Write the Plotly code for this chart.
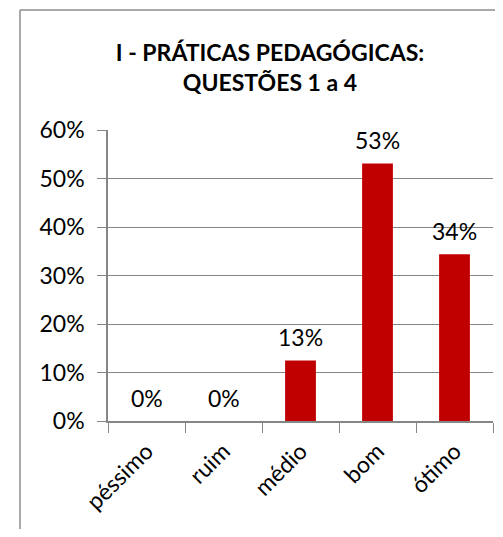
import plotly.graph_objects as go

categories = ["péssimo", "ruim", "médio", "bom", "ótimo"]
values = [0.0, 0.0, 0.125, 0.531, 0.344]
y_ticks = [0, 0.1, 0.2, 0.3, 0.4, 0.5, 0.6]

font_family = "Lato, 'Open Sans', sans-serif"
grid_color = "#868686"

fig = go.Figure(
    go.Bar(
        x=categories,
        y=values,
        marker=dict(color="#C00000", line=dict(width=0)),
        hoverinfo="skip",
    )
)

# data labels above each bar
for cat, val in zip(categories, values):
    fig.add_annotation(
        x=cat,
        y=val,
        text=f"{round(val * 100 + 1e-9):.0f}%",
        showarrow=False,
        yanchor="bottom",
        yshift=7,
        font=dict(size=23, color="black", family=font_family),
    )

# page body has an 8px margin, so the figure is a bit smaller than the window
fig.update_layout(
    width=487,
    height=521,
    margin=dict(l=100, r=2, t=122, b=108, autoexpand=False),
    paper_bgcolor="white",
    plot_bgcolor="white",
    showlegend=False,
    bargap=0.6,
    font=dict(family=font_family, color="black", size=23),
    title=dict(
        text="<b>I - PRÁTICAS PEDAGÓGICAS:<br>QUESTÕES 1 a 4</b>",
        x=0.538,
        xanchor="center",
        y=0.899,
        yanchor="top",
        font=dict(size=23, family=font_family, color="black"),
    ),
    xaxis=dict(
        showgrid=False,
        showline=True,
        linecolor=grid_color,
        linewidth=1.5,
        ticks="outside",
        tickson="boundaries",
        ticklen=10,
        tickcolor=grid_color,
        tickangle=-45,
        ticklabelstandoff=6,
        tickfont=dict(size=23),
    ),
    yaxis=dict(
        range=[0, 0.6],
        tickvals=y_ticks,
        tickformat=".0%",
        showgrid=True,
        gridcolor=grid_color,
        gridwidth=1,
        showline=True,
        linecolor=grid_color,
        linewidth=1.5,
        ticks="outside",
        ticklen=9,
        tickcolor=grid_color,
        ticklabelstandoff=8,
        tickfont=dict(size=23),
        zeroline=False,
    ),
    shapes=[
        dict(type="line", xref="paper", yref="paper", x0=-0.2286, x1=-0.2286, y0=-0.5, y1=1.412,
             line=dict(color="#8c8c8c", width=1.5)),
        dict(type="line", xref="paper", yref="paper", x0=-0.2286, x1=1.1, y0=1.412, y1=1.412,
             line=dict(color="#8c8c8c", width=1.5)),
    ],
)

fig.write_html("out.html")
